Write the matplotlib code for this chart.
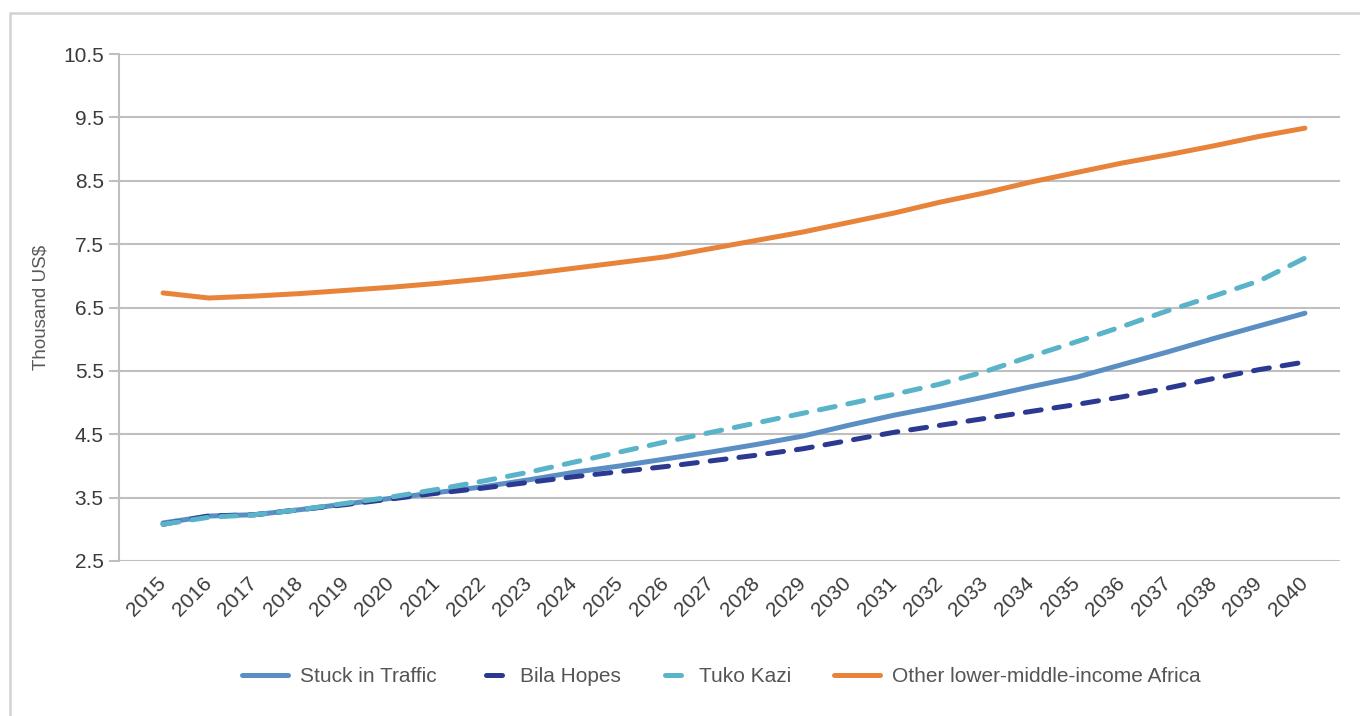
import numpy as np
import matplotlib
matplotlib.use("Agg")
import matplotlib.pyplot as plt
from matplotlib.patches import Rectangle
from matplotlib.transforms import ScaledTranslation

plt.rcParams['font.family'] = ['Liberation Sans', 'DejaVu Sans']

# data
years = list(range(2015, 2041))
stuck = [3.10, 3.21, 3.23, 3.31, 3.40, 3.49, 3.58, 3.67, 3.78, 3.90, 4.00, 4.11,
         4.22, 4.34, 4.47, 4.64, 4.80, 4.94, 5.09, 5.25, 5.40, 5.60, 5.80, 6.01, 6.21, 6.41]
bila = [3.08, 3.21, 3.23, 3.31, 3.39, 3.48, 3.57, 3.65, 3.74, 3.83, 3.91, 3.99,
        4.08, 4.17, 4.27, 4.40, 4.53, 4.64, 4.75, 4.86, 4.97, 5.09, 5.23, 5.38, 5.52, 5.64]
tuko = [3.08, 3.19, 3.23, 3.31, 3.41, 3.51, 3.63, 3.76, 3.90, 4.06, 4.22, 4.38,
        4.53, 4.68, 4.83, 4.98, 5.13, 5.29, 5.49, 5.73, 5.96, 6.20, 6.45, 6.68, 6.92, 7.28]
other = [6.73, 6.65, 6.68, 6.72, 6.77, 6.82, 6.88, 6.95, 7.03, 7.12, 7.21, 7.30,
         7.43, 7.56, 7.69, 7.84, 7.99, 8.16, 8.31, 8.48, 8.63, 8.78, 8.91, 9.05, 9.20, 9.33]
yticks = [2.5, 3.5, 4.5, 5.5, 6.5, 7.5, 8.5, 9.5, 10.5]

W, H = 1360, 716
fig = plt.figure(figsize=(W / 100, H / 100), dpi=100)

# light grey frame around the chart
fig.patches.append(Rectangle((10 / W, -0.1), 1.2, (H - 13) / H + 0.1,
                             transform=fig.transFigure, fill=False,
                             edgecolor='#d3d3d3', linewidth=1.8))

ax = fig.add_axes([119 / W, (H - 561) / H, (1340 - 119) / W, (561 - 54) / H])

grid_c = '#bfbfbf'
text_c = '#3a3a3a'
lw = 3.6
dash = (3.2, 2.6)
l1, = ax.plot(years, stuck, color='#5b8fc4', lw=lw, solid_capstyle='round')
l2, = ax.plot(years, bila, color='#2b3990', lw=lw, dashes=dash,
              dash_capstyle='round')
l3, = ax.plot(years, tuko, color='#5ab4c9', lw=lw, dashes=dash,
              dash_capstyle='round')
l4, = ax.plot(years, other, color='#e8833a', lw=lw, solid_capstyle='round')

ax.set_ylim(2.5, 10.5)
ax.set_yticks(yticks)
ax.set_yticklabels([f'{v:.1f}' for v in yticks])
ax.set_xlim(2015 - 44 / 45.6, 2040 + 35 / 45.6)
ax.set_xticks(years)
ax.set_xticklabels([str(y) for y in years], rotation=45, ha='right',
                   va='center', rotation_mode='anchor')
# nudge the rotated year labels a little to the right
shift = ScaledTranslation(7 / 100, 0, fig.dpi_scale_trans)
for lab in ax.get_xticklabels():
    lab.set_transform(lab.get_transform() + shift)

ax.grid(axis='y', color=grid_c, lw=1.5)
ax.set_axisbelow(True)
for s in ['top', 'right', 'bottom']:
    ax.spines[s].set_visible(False)
ax.spines['left'].set_color(grid_c)
ax.spines['left'].set_linewidth(1.5)
ax.tick_params(axis='y', length=7, width=1.5, color=grid_c, labelsize=15,
               labelcolor=text_c, pad=4)
ax.tick_params(axis='x', length=0, labelsize=15, labelcolor=text_c, pad=14)

ax.set_ylabel('Thousand US$', fontsize=13.5, color='#595959', labelpad=10)

# legend: one small legend per entry so each handle can have its own length
entries = [(l1, 'Stuck in Traffic', 242, 2.2),
           (l2, 'Bila Hopes', 486, 1.05),
           (l3, 'Tuko Kazi', 665, 1.05),
           (l4, 'Other lower-middle-income Africa', 834, 2.2)]
for h, lab, x0, hl in entries:
    fig.legend([h], [lab], loc='center left',
               bbox_to_anchor=(x0 / W, (H - 677) / H),
               frameon=False, fontsize=15, handlelength=hl,
               handletextpad=0.6, borderpad=0, borderaxespad=0,
               labelcolor='#555555')

fig.savefig('out.png', dpi=100)
